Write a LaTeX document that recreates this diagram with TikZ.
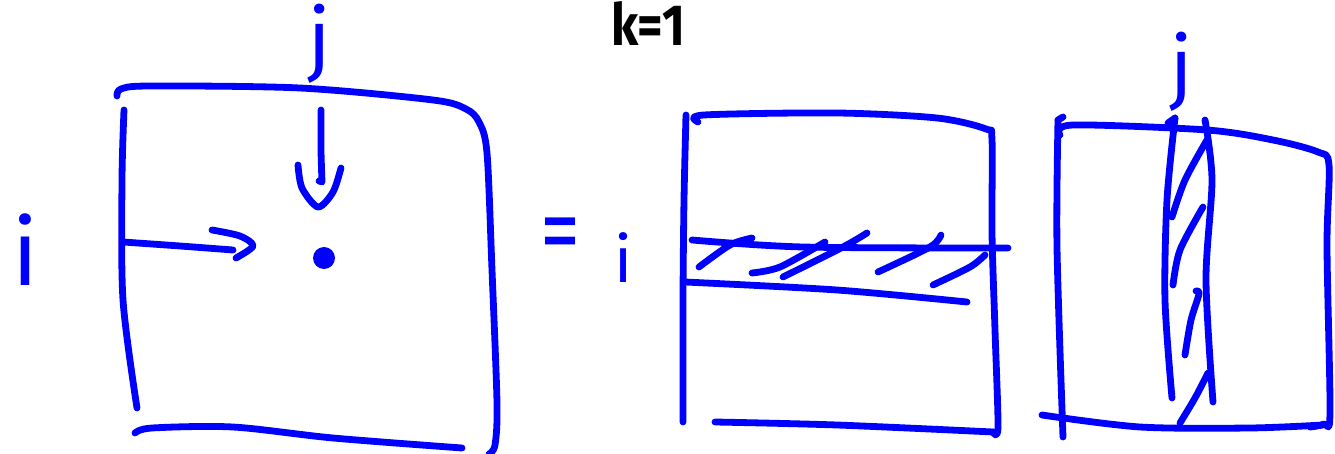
\documentclass[tikz,border=0pt]{standalone}
\usepackage{fontspec}
\setsansfont{Fira Sans}
\begin{document}
\begin{tikzpicture}[x=0.5pt,y=-0.5pt,
  pen/.style={blue, line width=3.4pt, line cap=round, line join=round},
  lbl/.style={blue, inner sep=0pt}]
\useasboundingbox (0,0) rectangle (1335,454);
\clip (0,0) rectangle (1335,454);
% ---- left matrix ----
\draw[pen] plot[smooth] coordinates {(117,96) (121,89) (150,86) (300,88) (433,100) (466,109) (479,122) (487,153) (492,270) (497,403) (495,445) (489,454)};
\draw[pen] plot[smooth] coordinates {(124,110) (122,180) (123,300) (137,408)};
\draw[pen] plot[smooth] coordinates {(135,433) (152,428) (233,427) (333,438) (462,448)};
% i arrow
\draw[pen] plot[smooth] coordinates {(123,242) (180,246) (233,250)};
\draw[pen] plot[smooth] coordinates {(212,230) (240,236) (253,246) (236,258)};
% j arrow
\draw[pen] plot[smooth] coordinates {(321,110) (321,150) (322,182)} -- (319,181);
\draw[pen] plot[smooth] coordinates {(298,165) (302,188) (318,207) (333,192) (341,168)};
\fill[blue] (324,258) circle (11);
% ---- middle matrix ----
\draw[pen] plot[smooth] coordinates {(686,115) (684,200) (683,300) (683,422)};
\draw[pen] plot[smooth] coordinates {(698,122) (704,115) (837,113) (937,118) (986,129) (992,140) (992,233) (995,330) (998,427) (993,432)};
\draw[pen] plot[smooth] coordinates {(715,422) (837,425) (993,432)};
\draw[pen] plot[smooth] coordinates {(692,240) (803,247) (1008,248)};
\draw[pen] plot[smooth] coordinates {(685,282) (837,290) (967,302)};
\draw[pen] plot[smooth] coordinates {(699,267) (730,245) (752,238)};
\draw[pen] plot[smooth] coordinates {(752,273) (780,267) (825,242)};
\draw[pen] plot[smooth] coordinates {(783,277) (843,247) (867,233)};
\draw[pen] plot[smooth] coordinates {(878,272) (930,247) (941,235)};
\draw[pen] plot[smooth] coordinates {(933,285) (970,267) (985,255)};
% ---- right matrix ----
\draw[pen] (1063,117) -- (1058,120);
\draw[pen] plot[smooth] coordinates {(1058,120) (1057,247) (1063,437)};
\draw[pen] plot[smooth] coordinates {(1060,135) (1073,125) (1207,130) (1273,140) (1318,152) (1329,165) (1327,247) (1330,413) (1324,424) (1310,427)};
\draw[pen] plot[smooth] coordinates {(1042,415) (1140,427) (1250,428) (1323,425)};
\draw[pen] (1168,123) -- (1175,118);
\draw[pen] plot[smooth] coordinates {(1175,118) (1167,200) (1165,300) (1172,398)};
\draw[pen] plot[smooth] coordinates {(1205,120) (1212,180) (1206,280) (1213,402)};
\draw[pen] plot[smooth] coordinates {(1172,217) (1185,180) (1207,140)};
\draw[pen] plot[smooth] coordinates {(1173,285) (1180,250) (1203,207)};
\draw[pen] plot[smooth] coordinates {(1185,355) (1191,320) (1199,294) (1196,291)};
\draw[pen] plot[smooth] coordinates {(1180,423) (1195,398) (1208,373)};
% ---- labels ----
\node[lbl, font=\sffamily\fontsize{40}{40}\selectfont] (jl) at (320,44) {j};
\node[lbl, font=\sffamily\fontsize{46}{46}\selectfont] (il) at (25,250) {i};
\node[lbl, font=\sffamily\fontsize{50}{50}\selectfont, xscale=0.8] (eq) at (560,241) {=};
\node[lbl, font=\sffamily\fontsize{32}{32}\selectfont] (im) at (624,258) {i};
\node[lbl, font=\sffamily\fontsize{40}{40}\selectfont] (jr) at (1182,72) {j};
\node[black, inner sep=0pt, anchor=base, xscale=0.85, font=\sffamily\bfseries\fontsize{29}{29}\selectfont] (k) at (648,46) {k=1};
\end{tikzpicture}
\end{document}
